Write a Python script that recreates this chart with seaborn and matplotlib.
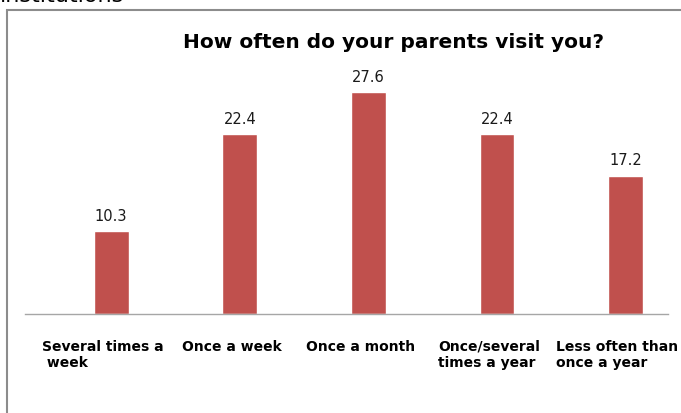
import pandas as pd
import seaborn as sns
import matplotlib.pyplot as plt
from matplotlib.patches import Rectangle
from matplotlib.transforms import ScaledTranslation

# Survey answers
categories = [
    "Several times a\n week",
    "Once a week",
    "Once a month",
    "Once/several\ntimes a year",
    "Less often than\nonce a year",
]
shares = [10.3, 22.4, 27.6, 22.4, 17.2]

BAR_COLOR = "#C0504D"


def main():
    df = pd.DataFrame({"answer": categories, "share": shares})

    sns.set_style("white")
    plt.rcParams["font.family"] = ["DejaVu Sans"]
    plt.rcParams["text.color"] = "black"
    plt.rcParams["xtick.color"] = "black"

    fig = plt.figure(figsize=(6.81, 4.14), dpi=100)
    ax = fig.add_axes([25 / 681, 99 / 414, 643 / 681, 241 / 414])

    sns.barplot(data=df, x="answer", y="share", color=BAR_COLOR,
                width=0.27, saturation=1, ax=ax)

    ax.bar_label(ax.containers[0], fmt="%.1f", padding=6, fontsize=10.5,
                 color="#1a1a1a")

    ax.set_ylim(0, 30)
    ax.set_xlim(-0.67, 4.33)
    ax.set_xlabel("")
    ax.set_ylabel("")
    ax.set_yticks([])
    ax.tick_params(axis="x", length=0, pad=18)
    # category labels sit a little left of their bars in the original
    shift = ScaledTranslation(-8 / 100, 0, fig.dpi_scale_trans)
    for lbl in ax.get_xticklabels():
        lbl.set_fontweight("bold")
        lbl.set_fontsize(10)
        lbl.set_multialignment("left")
        lbl.set_verticalalignment("top")
        lbl.set_transform(lbl.get_transform() + shift)

    for side in ["top", "right", "left"]:
        ax.spines[side].set_visible(False)
    ax.spines["bottom"].set_color("#a6a6a6")
    ax.spines["bottom"].set_linewidth(1)

    # title sits right of the plot centre, as in the original
    fig.text(393 / 681, 1 - 42 / 414, "How often do your parents visit you?",
             ha="center", va="center", fontsize=14.5, fontweight="bold")

    # clipped caption from the page above the chart (only its foot shows)
    fig.text(0.0, 1 - 2 / 414, "institutions", ha="left", va="baseline",
             fontsize=16)

    # outer chart frame
    fig.patches.append(Rectangle((7 / 681, -0.1), 1.0, 1.1 - 11 / 414,
                                 transform=fig.transFigure, fill=False,
                                 edgecolor="#8c8c8c", linewidth=1.5))

    fig.savefig("out.png", dpi=100)
    plt.close(fig)


if __name__ == "__main__":
    main()
